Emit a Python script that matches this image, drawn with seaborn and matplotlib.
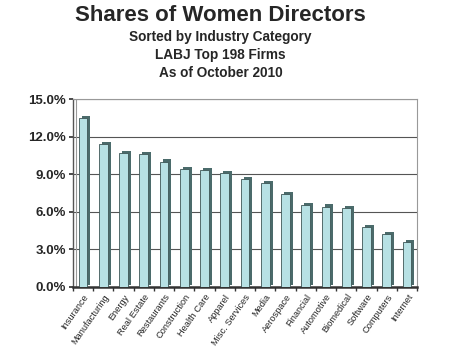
import matplotlib
matplotlib.use("Agg")
import matplotlib.pyplot as plt
import matplotlib.patheffects as pe
from matplotlib.ticker import FuncFormatter, FixedLocator
import seaborn as sns
import pandas as pd

categories = ["Insurance", "Manufacturing", "Energy", "Real Estate", "Restaurants",
              "Construction", "Health Care", "Apparel", "Misc. Services", "Media",
              "Aerospace", "Financial", "Automotive", "Biomedical", "Software",
              "Computers", "Internet"]
shares = [13.5, 11.4, 10.7, 10.6, 10.0, 9.4, 9.3, 9.1, 8.6, 8.3,
          7.4, 6.5, 6.4, 6.3, 4.8, 4.2, 3.6]
y_ticks = [0, 3, 6, 9, 12, 15]

df = pd.DataFrame({"Industry": categories, "Share": shares})

sns.set_theme(style="white")
plt.rcParams["font.family"] = ["Liberation Sans", "DejaVu Sans"]

fig = plt.figure(figsize=(4.5, 3.55), dpi=100)
ax = fig.add_axes([0.162, 0.192, 0.765, 0.529])

sns.barplot(data=df, x="Industry", y="Share", ax=ax, color="#B7E1E4",
            width=0.43, edgecolor="#3E5656", linewidth=0.6, saturation=1)
for p in ax.patches:
    p.set_path_effects([pe.SimplePatchShadow(offset=(2.2, 1.6), shadow_rgbFace="#4B6B6B", alpha=1.0),
                        pe.Normal()])
    p.set_zorder(3)

ax.set_ylim(0, 15)
ax.set_xlim(-0.5, len(categories) - 0.5)
ax.yaxis.set_major_locator(FixedLocator(y_ticks))
ax.yaxis.set_major_formatter(FuncFormatter(lambda v, _: f"{v:.1f}%"))
ax.grid(axis="y", color="#555555", linewidth=0.8, zorder=0)
ax.set_axisbelow(True)
ax.axvline(-0.36, color="#999999", linewidth=0.8, zorder=1)

for s in ["top", "right"]:
    ax.spines[s].set_color("#999999")
    ax.spines[s].set_linewidth(0.8)
ax.spines["left"].set_color("#555555")
ax.spines["bottom"].set_color("#333333")
ax.spines["left"].set_linewidth(1.0)
ax.spines["bottom"].set_linewidth(1.8)

ax.set_xlabel("")
ax.set_ylabel("")
ax.tick_params(axis="y", labelsize=9.5, length=3, left=True, color="#333333", pad=2)
for lbl in ax.get_yticklabels():
    lbl.set_fontweight("bold")
ax.set_xticks(range(len(categories)))
ax.set_xticklabels(categories, rotation=55, ha="right", rotation_mode="anchor", fontsize=6.7)
ax.tick_params(axis="x", length=0, pad=4)
ax.xaxis.set_minor_locator(FixedLocator([i - 0.5 for i in range(len(categories) + 1)]))
ax.tick_params(axis="x", which="minor", bottom=True, length=3, color="#333333")

fig.text(0.49, 0.957, "Shares of Women Directors", ha="center", va="center",
         fontsize=16, fontweight="bold")
fig.text(0.49, 0.896, "Sorted by Industry Category", ha="center", va="center",
         fontsize=9.8, fontweight="bold")
fig.text(0.49, 0.845, "LABJ Top 198 Firms", ha="center", va="center",
         fontsize=9.8, fontweight="bold")
fig.text(0.49, 0.793, "As of October 2010", ha="center", va="center",
         fontsize=9.8, fontweight="bold")

fig.savefig("out.png", dpi=100)
